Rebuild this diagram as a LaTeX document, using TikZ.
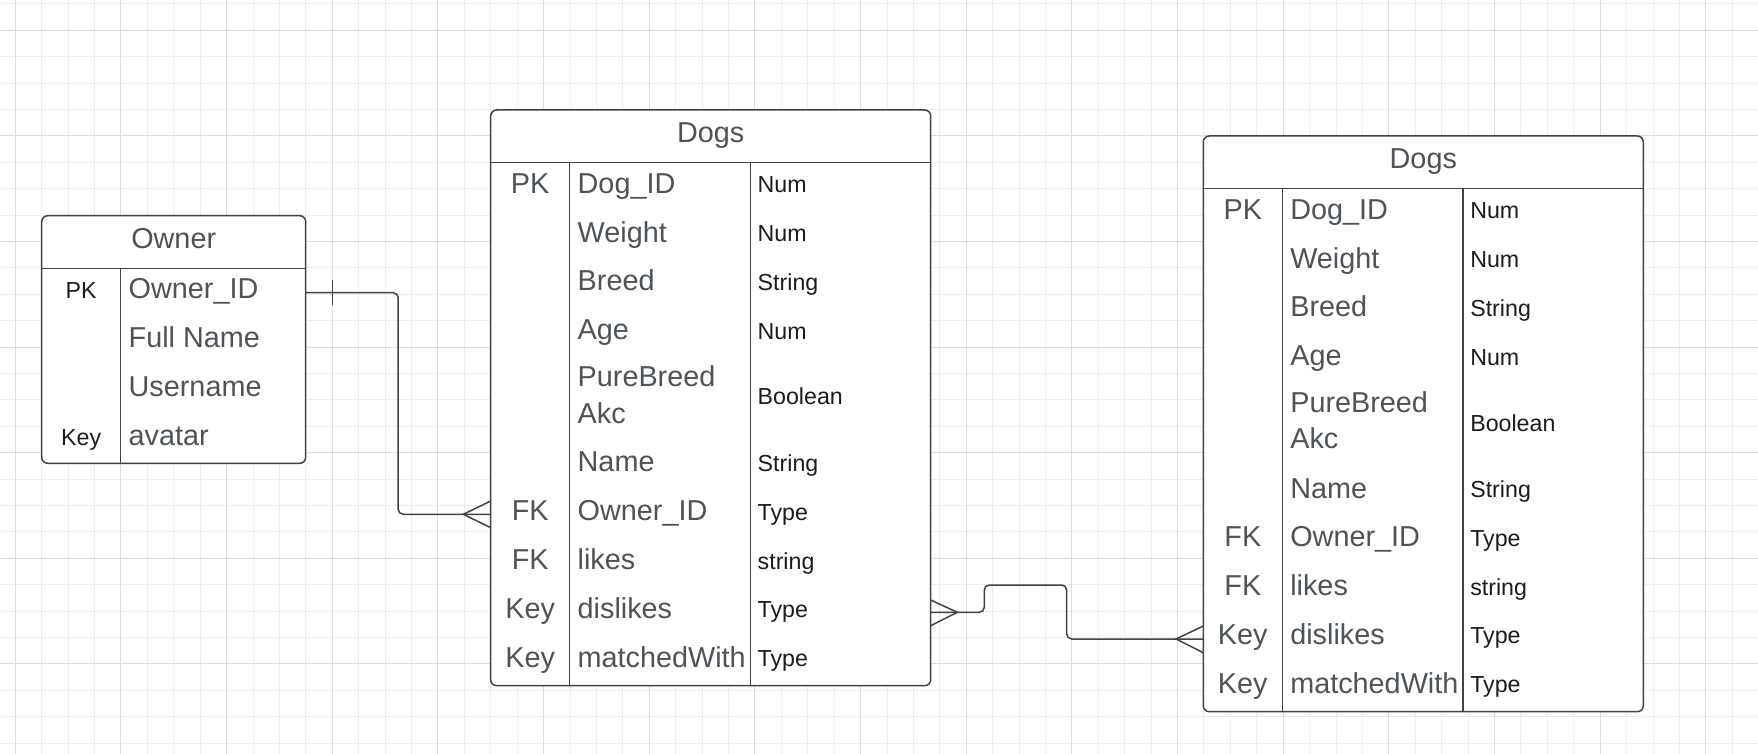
\documentclass[tikz,border=0pt]{standalone}
\usepackage{fontspec}
\setmainfont{Liberation Sans}
\usetikzlibrary{calc}
\definecolor{gridminor}{RGB}{237,237,237}
\definecolor{gridmajor}{RGB}{221,221,221}
\definecolor{edge}{RGB}{62,66,73}
\definecolor{fieldtxt}{RGB}{78,83,90}
\definecolor{typetxt}{RGB}{28,28,28}
\newcommand{\bigf}{\fontsize{14.4}{17}\selectfont}
\newcommand{\smallf}{\fontsize{11.6}{14}\selectfont}
\tikzset{
  tbl/.style={draw=edge, fill=white, line width=0.75pt, rounded corners=3pt, inner sep=0pt, outer sep=0pt},
  sep/.style={draw=edge, line width=0.75pt},
  conn/.style={draw=edge, line width=0.75pt},
  fld/.style={anchor=base west, inner sep=0pt, text=fieldtxt, font=\bigf},
  keyc/.style={anchor=base, inner sep=0pt, text=fieldtxt, font=\bigf},
  ttl/.style={anchor=base, inner sep=0pt, text=fieldtxt, font=\bigf},
  typ/.style={anchor=base west, inner sep=0pt, text=typetxt, font=\smallf},
  okey/.style={anchor=base, inner sep=0pt, text=typetxt, font=\smallf},
  gminor/.style={draw=gridminor, line width=0.5pt},
  gmajor/.style={draw=gridmajor, line width=0.5pt},
}
\newcommand{\DogTable}[3]{%
\begin{scope}[shift={(#2,#3)}]
  \node[tbl, minimum width=220pt, minimum height=287.85pt] (#1) at (710.7,397.85) {};
  \draw[sep] (490.7,162.3) -- (930.7,162.3);
  \draw[sep] (569.7,162.3) -- (569.7,685.7);
  \draw[sep] (750.3,162.3) -- (750.3,685.7);
  \node[ttl] (#1-title) at (710.7,142.7) {Dogs};
  % key column
  \node[keyc] (#1-k1) at (530.2,193.2) {PK};
  \node[keyc] (#1-k7) at (530.2,520.85) {FK};
  \node[keyc] (#1-k8) at (530.2,569.7) {FK};
  \node[keyc] (#1-k9) at (530.2,618.55) {Key};
  \node[keyc] (#1-k10) at (530.2,667.4) {Key};
  % fields
  \node[fld] (#1-f1) at (577.3,193.2) {Dog\_ID};
  \node[fld] (#1-f2) at (577.3,242.05) {Weight};
  \node[fld] (#1-f3) at (577.3,290.9) {Breed};
  \node[fld] (#1-f4) at (577.3,339.75) {Age};
  \node[fld] (#1-f5a) at (577.3,386.3) {PureBreed};
  \node[fld] (#1-f5b) at (577.3,423) {Akc};
  \node[fld] (#1-f6) at (577.3,472) {Name};
  \node[fld] (#1-f7) at (577.3,520.85) {Owner\_ID};
  \node[fld] (#1-f8) at (577.3,569.7) {likes};
  \node[fld] (#1-f9) at (577.3,618.55) {dislikes};
  \node[fld] (#1-f10) at (577.3,667.4) {matchedWith};
  % types
  \node[typ] (#1-t1) at (757.3,192.6) {Num};
  \node[typ] (#1-t2) at (757.3,241.45) {Num};
  \node[typ] (#1-t3) at (757.3,290.3) {String};
  \node[typ] (#1-t4) at (757.3,339.15) {Num};
  \node[typ] (#1-t5) at (757.3,405) {Boolean};
  \node[typ] (#1-t6) at (757.3,471.4) {String};
  \node[typ] (#1-t7) at (757.3,520.25) {Type};
  \node[typ] (#1-t8) at (757.3,569.1) {string};
  \node[typ] (#1-t9) at (757.3,617.95) {Type};
  \node[typ] (#1-t10) at (757.3,666.8) {Type};
\end{scope}}

\begin{document}
\begin{tikzpicture}[x=0.5pt,y=-0.5pt]
  \useasboundingbox (0,0) rectangle (1758,754);
  \fill[white] (0,0) rectangle (1758,754);
  % grid
  \foreach \k in {0,...,65} {\draw[gminor] ({15.3+26.415*\k},0) -- ({15.3+26.415*\k},754);}
  \foreach \k in {-1,...,27} {\draw[gminor] (0,{30.3+26.4*\k}) -- (1758,{30.3+26.4*\k});}
  \foreach \k in {0,...,16} {\draw[gmajor] ({15.3+105.66*\k},0) -- ({15.3+105.66*\k},754);}
  \foreach \k in {0,...,6} {\draw[gmajor] (0,{30.3+105.6*\k}) -- (1758,{30.3+105.6*\k});}

  % Owner table
  \node[tbl, minimum width=132pt, minimum height=123.8pt] (owner) at (173.7,339.5) {};
  \draw[sep] (41.7,268.3) -- (305.7,268.3);
  \draw[sep] (120.7,268.3) -- (120.7,463.3);
  \node[ttl] (owner-title) at (173.7,248.3) {Owner};
  \node[okey] (owner-k1) at (81.2,298.3) {PK};
  \node[okey] (owner-k4) at (81.2,445) {Key};
  \node[fld] (owner-f1) at (128.3,299) {Owner\_ID};
  \node[fld] (owner-f2) at (128.3,347.8) {Full Name};
  \node[fld] (owner-f3) at (128.3,396.6) {Username};
  \node[fld] (owner-f4) at (128.3,445.4) {avatar};

  % Dogs tables
  \DogTable{dogsA}{0}{0}
  \DogTable{dogsB}{712.6}{26}

  % connector Owner -> Dogs (one to many)
  \coordinate (c1a) at ($(owner.north east)+(0,77)$);
  \coordinate (c1b) at ($(dogsA.north west)+(0,404.3)$);
  \coordinate (c1m) at ($(c1a)!0.5!(c1b)$);
  \draw[conn, rounded corners=2.5pt] (c1a) -| (c1m |- c1b) -- (c1b);
  \draw[conn] ($(c1a)+(27,-12.7)$) -- ($(c1a)+(27,12.6)$);
  \draw[conn] ($(c1b)+(0,-13.3)$) -- ($(c1b)+(-27.4,0)$) -- ($(c1b)+(0,13.4)$);

  % connector Dogs -> Dogs (many to many)
  \coordinate (c2a) at ($(dogsA.north east)+(0,502.3)$);
  \coordinate (c2b) at ($(dogsB.north west)+(0,503)$);
  \draw[conn, rounded corners=2.5pt] (c2a) -- ++(53.6,0) -- ++(0,-27.3) -- ++(82.4,0) |- (c2b);
  \draw[conn] ($(c2a)+(0,-12.3)$) -- ($(c2a)+(26.6,0)$) -- ($(c2a)+(0,13.4)$);
  \draw[conn] ($(c2b)+(0,-13)$) -- ($(c2b)+(-27.3,0)$) -- ($(c2b)+(0,13.7)$);
\end{tikzpicture}
\end{document}
